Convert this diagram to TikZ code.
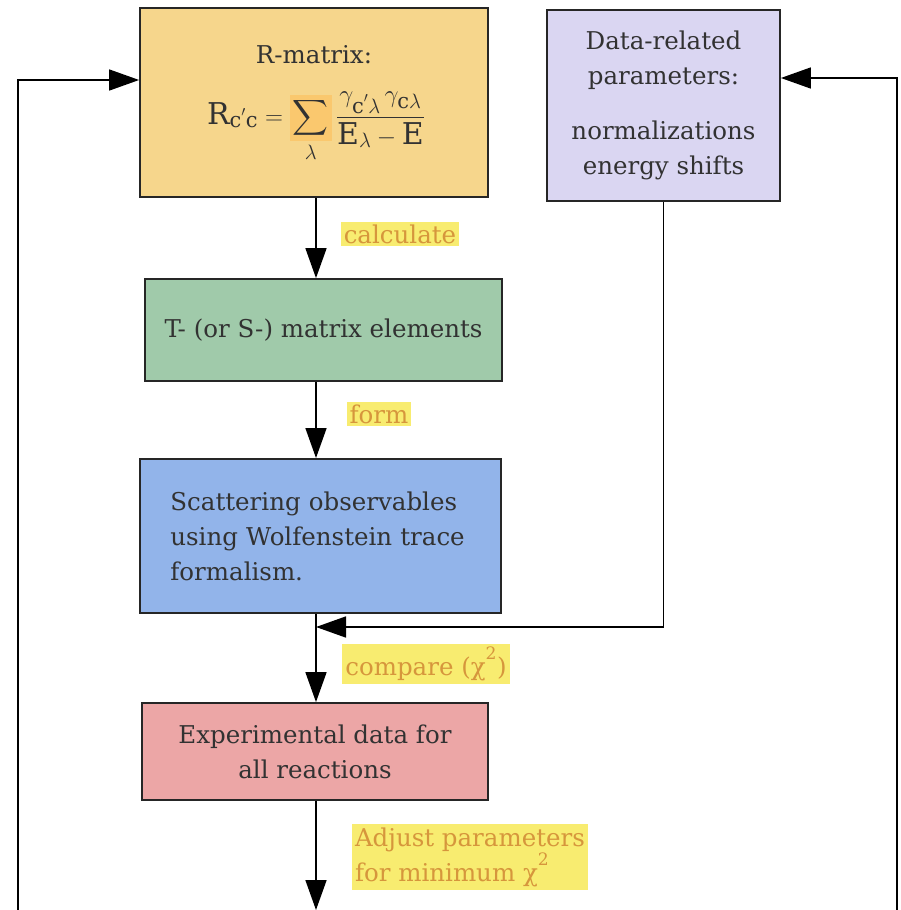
\documentclass[tikz,border=0pt]{standalone}
\usepackage{amsmath}
\usepackage{fontspec}
\setmainfont{DejaVu Serif}
\usetikzlibrary{arrows.meta, calc}

\definecolor{rmatfill}{RGB}{246,214,140}
\definecolor{sigmafill}{RGB}{250,200,110}
\definecolor{datafill}{RGB}{218,214,242}
\definecolor{tmatfill}{RGB}{160,202,170}
\definecolor{scatfill}{RGB}{146,180,234}
\definecolor{expfill}{RGB}{236,166,166}
\definecolor{hilite}{RGB}{248,236,112}
\definecolor{labtext}{RGB}{214,150,60}
\definecolor{boxtext}{RGB}{50,50,50}

\tikzset{
  box/.style = {draw=black!85, line width=1.8pt, rectangle, inner sep=0pt,
                text=boxtext, align=center, font=\fontsize{24.5}{35}\selectfont},
  steplabel/.style = {fill=hilite, text=labtext, inner sep=3pt, align=left,
                font=\fontsize{24.5}{35}\selectfont},
  flow/.style = {line width=1.6pt, -{Triangle[length=30pt,width=21pt]}},
  wire/.style = {line width=1.3pt}
}

\begin{document}
\begin{tikzpicture}[x=1pt, y=-1pt]
\useasboundingbox (0,0) rectangle (901,910);

% boxes
\node[box, fill=rmatfill, minimum width=348, minimum height=189] (rmat) at (314,102.5) {};
\node[text=boxtext, font=\fontsize{24.5}{32}\selectfont] (rtitle) at (314,55) {R-matrix:};
\node[text=boxtext, font=\fontsize{30}{36}\selectfont] (rform) at (316,127)
  {$\mathrm{R}_{\mathrm{c'c}} = \mathop{\colorbox{sigmafill}{$\displaystyle\sum$}}\limits_{\lambda}
   \dfrac{\gamma_{\mathrm{c'}\lambda}\,\gamma_{\mathrm{c}\lambda}}{\mathrm{E}_{\lambda} - \mathrm{E}}$};
\node[box, fill=datafill, minimum width=233, minimum height=191] (data) at (663.5,105.5)
  {Data-related\\parameters:\\[20pt]normalizations\\energy shifts};
\node[box, fill=tmatfill, minimum width=357, minimum height=102] (tmat) at (323.5,330)
  {T- (or S-) matrix elements};
\node[box, fill=scatfill, minimum width=361, minimum height=154, align=left,
      text width=300, inner xsep=30.5, anchor=north west] (scat) at (139,458)
  {Scattering observables\\using Wolfenstein trace\\formalism.\\[8pt]};
\node[box, fill=expfill, minimum width=346, minimum height=97] (expt) at (315,751.5)
  {Experimental data for\\all reactions};

% labels
\node[steplabel] (lcalc) at (400,234) {calculate};
\node[steplabel] (lform) at (379,414) {form};
\node[steplabel] (lcomp) at (426,664) {compare (χ\textsuperscript{2})};
\node[steplabel] (ladj) at (470,857) {Adjust parameters\\for minimum χ\textsuperscript{2}};

% helper points
\coordinate (join) at (316,627);
\coordinate (bottom) at (316,910);
\coordinate (lfoot) at (18,910);
\coordinate (rfoot) at (897,910);

% main chain
\draw[flow] (rmat.south -| join) -- (tmat.north -| join);
\draw[flow] (tmat.south -| join) -- (scat.north -| join);
\draw[flow] (scat.south -| join) -- (expt.north -| join);
\draw[flow] (expt.south -| join) -- (bottom);

% feedback
\draw[flow] (data.south) |- (join);
\draw[flow] (lfoot) |- (rmat.west |- 0,80);
\draw[flow] (rfoot) |- (data.east |- 0,78);
\end{tikzpicture}
\end{document}
